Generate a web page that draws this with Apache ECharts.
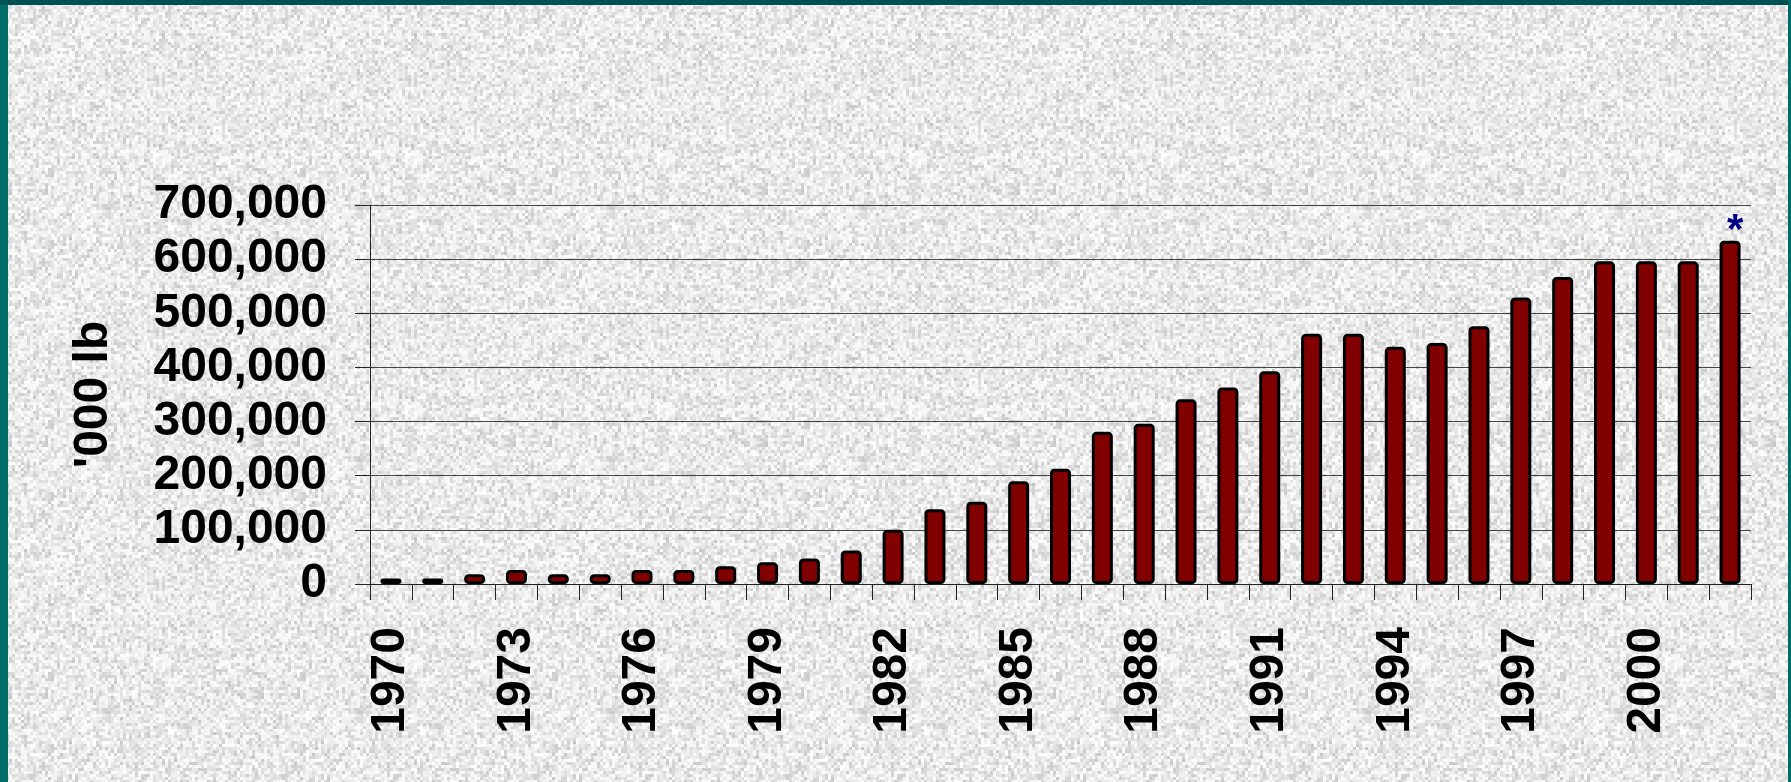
<!DOCTYPE html>
<html>
<head>
<meta charset="utf-8">
<title>'000 lb, 1970–2002</title>
<script src="https://cdn.jsdelivr.net/npm/echarts@6/dist/echarts.min.js"></script>
<style>
  html, body { margin: 0; padding: 0; background: #e6e6e6; }
  #chart { width: 1791px; height: 782px; background-repeat: repeat; }
</style>
</head>
<body>
<div id="chart"></div>
<script>
// Yearly volume, thousands of pounds
const years = [
  '1970', '1971', '1972', '1973', '1974', '1975', '1976', '1977', '1978', '1979',
  '1980', '1981', '1982', '1983', '1984', '1985', '1986', '1987', '1988', '1989',
  '1990', '1991', '1992', '1993', '1994', '1995', '1996', '1997', '1998', '1999',
  '2000', '2001', '2002'
];
const volumes = [
  10000, 10000, 18000, 26000, 18000, 18000, 26000, 26000, 33000, 40000,
  47000, 62000, 100000, 138000, 152000, 190000, 213000, 281000, 296000, 341000,
  363000, 393000, 462000, 462000, 438000, 445000, 476000, 529000, 567000, 596000,
  596000, 596000, 634000
];
// The latest year is provisional and carries a footnote mark
const footnoteYear = '2002';
const footnoteMark = '*';
const yAxisTitle = "'000 lb";
const yTickLabels = ['0', '100,000', '200,000', '300,000', '400,000', '500,000', '600,000', '700,000'];
const yStep = 100000;

const FONT = '"Liberation Sans", Arial, sans-serif';

// Granite-style slide background: grey speckles from a small integer hash
function graniteTile() {
  const size = 252, cell = 3;
  const c = document.createElement('canvas');
  c.width = size; c.height = size;
  const ctx = c.getContext('2d');
  for (let y = 0; y < size; y += cell) {
    for (let x = 0; x < size; x += cell) {
      let h = (x * 374761393 + y * 668265263) | 0;
      h = Math.imul(h ^ (h >>> 13), 1274126177);
      h = (h ^ (h >>> 16)) >>> 0;
      const t = (h % 1000) / 1000;
      const g = Math.round(198 + 57 * Math.pow(t, 0.6));
      ctx.fillStyle = 'rgb(' + g + ',' + (g - 1) + ',' + g + ')';
      ctx.fillRect(x, y, cell, cell);
    }
  }
  return c.toDataURL();
}
document.getElementById('chart').style.backgroundImage = 'url(' + graniteTile() + ')';

const barData = volumes.map((v, i) => {
  if (years[i] !== footnoteYear) return v;
  return {
    value: v,
    label: {
      show: true,
      formatter: footnoteMark,
      position: 'top',
      distance: -12,
      offset: [5, 0],
      color: '#000080',
      fontFamily: FONT,
      fontWeight: 'bold',
      fontSize: 42
    }
  };
});

const chart = echarts.init(document.getElementById('chart'), null, { renderer: 'canvas' });

chart.setOption({
  backgroundColor: 'transparent',
  animation: false,
  graphic: [
    // teal slide frame
    { type: 'rect', left: 0, top: 0, shape: { width: 8, height: 782 }, style: { fill: '#006d6a' }, z: 100 },
    { type: 'rect', left: 0, top: 0, shape: { width: 1791, height: 5 }, style: { fill: '#005252' }, z: 100 },
    { type: 'rect', right: 0, top: 0, shape: { width: 3, height: 782 }, style: { fill: '#006a6a' }, z: 100 }
  ],
  grid: { left: 370, right: 40, top: 205, bottom: 198 },
  xAxis: {
    type: 'category',
    data: years,
    boundaryGap: true,
    axisLine: { show: true, lineStyle: { color: '#222', width: 1 } },
    axisTick: { show: true, interval: 0, length: 16, lineStyle: { color: '#222', width: 1 } },
    axisLabel: {
      interval: 2,
      rotate: 90,
      margin: 43,
      color: '#000',
      fontFamily: FONT,
      fontWeight: 'bold',
      fontSize: 48
    },
    splitLine: { show: false }
  },
  yAxis: {
    type: 'value',
    min: 0,
    max: 700000,
    interval: yStep,
    name: yAxisTitle,
    nameLocation: 'middle',
    nameGap: 252,
    nameRotate: 90,
    nameTextStyle: {
      color: '#000',
      fontFamily: FONT,
      fontWeight: 'bold',
      fontSize: 48
    },
    axisLine: { show: true, lineStyle: { color: '#222', width: 1 } },
    axisTick: { show: true, length: 15, lineStyle: { color: '#222', width: 1 } },
    axisLabel: {
      margin: 43,
      color: '#000',
      fontFamily: FONT,
      fontWeight: 'bold',
      fontSize: 48,
      formatter: v => yTickLabels[Math.round(v / yStep)]
    },
    splitLine: { show: true, lineStyle: { color: '#444', width: 1 } }
  },
  series: [{
    type: 'bar',
    data: barData,
    barWidth: 21,
    itemStyle: {
      color: '#800000',
      borderColor: '#000',
      borderWidth: 3,
      borderRadius: 3
    }
  }]
});
</script>
</body>
</html>
